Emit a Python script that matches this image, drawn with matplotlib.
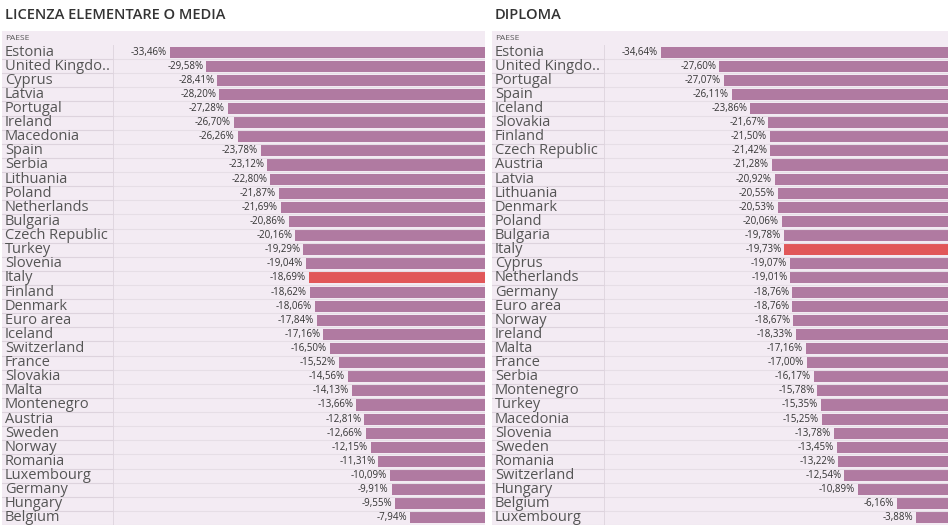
import matplotlib.pyplot as plt

# data
paesi_media = ["Estonia", "United Kingdo..", "Cyprus", "Latvia", "Portugal", "Ireland",
               "Macedonia", "Spain", "Serbia", "Lithuania", "Poland", "Netherlands",
               "Bulgaria", "Czech Republic", "Turkey", "Slovenia", "Italy", "Finland",
               "Denmark", "Euro area", "Iceland", "Switzerland", "France", "Slovakia",
               "Malta", "Montenegro", "Austria", "Sweden", "Norway", "Romania",
               "Luxembourg", "Germany", "Hungary", "Belgium"]
valori_media = [-33.46, -29.58, -28.41, -28.20, -27.28, -26.70, -26.26, -23.78, -23.12,
                -22.80, -21.87, -21.69, -20.86, -20.16, -19.29, -19.04, -18.69, -18.62,
                -18.06, -17.84, -17.16, -16.50, -15.52, -14.56, -14.13, -13.66, -12.81,
                -12.66, -12.15, -11.31, -10.09, -9.91, -9.55, -7.94]

paesi_diploma = ["Estonia", "United Kingdo..", "Portugal", "Spain", "Iceland", "Slovakia",
                 "Finland", "Czech Republic", "Austria", "Latvia", "Lithuania", "Denmark",
                 "Poland", "Bulgaria", "Italy", "Cyprus", "Netherlands", "Germany",
                 "Euro area", "Norway", "Ireland", "Malta", "France", "Serbia",
                 "Montenegro", "Turkey", "Macedonia", "Slovenia", "Sweden", "Romania",
                 "Switzerland", "Hungary", "Belgium", "Luxembourg"]
valori_diploma = [-34.64, -27.60, -27.07, -26.11, -23.86, -21.67, -21.50, -21.42, -21.28,
                  -20.92, -20.55, -20.53, -20.06, -19.78, -19.73, -19.07, -19.01, -18.76,
                  -18.76, -18.67, -18.33, -17.16, -17.00, -16.17, -15.78, -15.35, -15.25,
                  -13.78, -13.45, -13.22, -12.54, -10.89, -6.16, -3.88]

W, H = 950, 529
bg = '#f3ebf3'
bar_col = '#b07aa1'
hi_col = '#e15759'
txt_col = '#555555'
line_col = '#ddd3dd'
font = 'Open Sans'

fig = plt.figure(figsize=(W / 100, H / 100), dpi=100)


def px(x0, y0, x1, y1):
    return [x0 / W, 1 - y1 / H, (x1 - x0) / W, (y1 - y0) / H]


def pulisci(a):
    a.set_xticks([])
    a.set_yticks([])
    for s in a.spines.values():
        s.set_visible(False)


def pannello(titolo, paesi, valori, x0, xs, x1, xmax):
    n = len(paesi)
    top, bot = 45, 525
    fig.text((x0 + 3) / W, 1 - 15 / H, titolo, fontsize=10.5, color='#333333',
             family=font, weight='semibold', va='center', ha='left')
    # header row
    hdr = fig.add_axes(px(x0, 31, x1, top))
    hdr.set_facecolor(bg)
    pulisci(hdr)
    hdr.text(3 / (x1 - x0), 0.5, "PAESE", fontsize=6, color=txt_col, family=font,
             va='center', ha='left', transform=hdr.transAxes)

    # label column
    lab = fig.add_axes(px(x0, top, xs, bot))
    lab.set_facecolor(bg)
    lab.set_xlim(0, 1)
    lab.set_ylim(n - 0.5, -0.5)
    pulisci(lab)
    for i, p in enumerate(paesi):
        lab.text(3 / (xs - x0), i, p, fontsize=10.5, color=txt_col, family=font,
                 va='center', ha='left')
        lab.axhline(i + 0.5, color=line_col, lw=0.8)

    # bar area
    ax = fig.add_axes(px(xs, top, x1, bot))
    ax.set_facecolor(bg)
    colori = [hi_col if p == "Italy" else bar_col for p in paesi]
    ax.barh(range(n), [-v for v in valori], left=valori, height=0.78, color=colori)
    ax.set_xlim(-xmax, 0)
    ax.set_ylim(n - 0.5, -0.5)
    for i, v in enumerate(valori):
        ax.text(v - xmax * 0.008, i, f"{v:.2f}%".replace('.', ','), fontsize=7,
                color='#333333', family=font, va='center', ha='right')
        ax.axhline(i + 0.5, color='#e6dee6', lw=0.8)
    pulisci(ax)
    ax.axvline(-xmax, color=line_col, lw=1.2)


pannello("LICENZA ELEMENTARE O MEDIA", paesi_media, valori_media, 2, 113, 485, 39.5)
pannello("DIPLOMA", paesi_diploma, valori_diploma, 492, 604, 948, 41.5)

fig.savefig("out.png", dpi=100, facecolor='white')
